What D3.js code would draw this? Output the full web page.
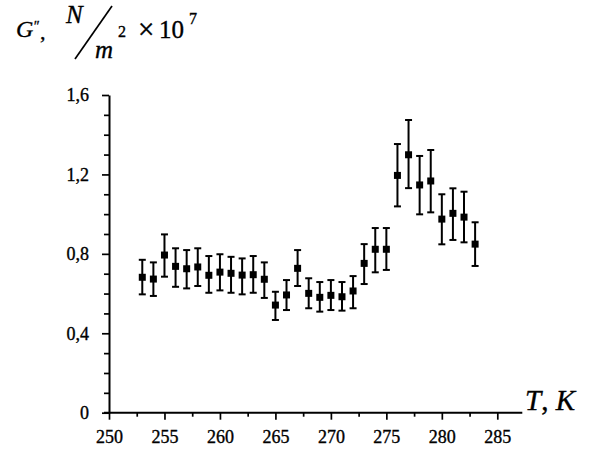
<!DOCTYPE html>
<html>
<head>
<meta charset="utf-8">
<script src="https://cdn.jsdelivr.net/npm/d3@7"></script>
<style>
  html, body { margin: 0; padding: 0; background: #fff; }
  svg { display: block; }
  svg text { font-family: "Liberation Serif", "Times New Roman", Times, serif !important; fill: #000; stroke: #000; stroke-width: 0.35px; }
</style>
</head>
<body>
<svg id="chart" width="597" height="456"></svg>
<script>
// Temperature, K
const temps = [253,254,255,256,257,258,259,260,261,262,263,264,265,266,267,268,269,270,271,272,273,274,275,276,277,278,279,280,281,282,283];
// G'' values (×10^7 N/m^2)
const values = [0.682,0.673,0.794,0.737,0.725,0.734,0.692,0.708,0.702,0.693,0.695,0.672,0.542,0.593,0.727,0.601,0.581,0.591,0.584,0.613,0.752,0.823,0.823,1.195,1.299,1.147,1.167,0.975,1.004,0.985,0.849];
// upper end of error bar
const upper = [0.770,0.757,0.898,0.828,0.819,0.828,0.789,0.798,0.785,0.777,0.789,0.757,0.609,0.668,0.819,0.677,0.658,0.668,0.658,0.688,0.849,0.930,0.930,1.353,1.474,1.293,1.323,1.100,1.130,1.113,0.959];
// lower end of error bar
const lower = [0.596,0.588,0.685,0.634,0.626,0.638,0.604,0.616,0.604,0.596,0.604,0.578,0.467,0.517,0.638,0.526,0.509,0.517,0.514,0.526,0.648,0.707,0.719,1.039,1.131,0.999,1.009,0.848,0.870,0.858,0.739];
// ticks
const xTicks = [250,255,260,265,270,275,280,285];
const xMinorTicks = [252.5,257.5,262.5,267.5,272.5,277.5,282.5];
const yTicks = [0,0.4,0.8,1.2,1.6];
const yMinorTicks = [0.1,0.2,0.3,0.5,0.6,0.7,0.9,1.0,1.1,1.3,1.4,1.5];

const svg = d3.select("#chart");
const x = d3.scaleLinear().domain([250,285]).range([109,497.3]);
const y = d3.scaleLinear().domain([0,1.6]).range([412.7,95]);
const fmt = d => d === 0 ? "0" : d3.format(".1f")(d).replace(".", ",");

// X axis minor ticks
svg.append("g").attr("transform", `translate(0,${y(0)})`)
  .call(d3.axisBottom(x).tickValues(xMinorTicks).tickSize(4).tickFormat(""))
  .call(g => g.select(".domain").remove());
// X axis major
const gx = svg.append("g").attr("transform", `translate(0,${y(0)})`)
  .call(d3.axisBottom(x).tickValues(xTicks).tickSize(7).tickPadding(11).tickFormat(d3.format("d")));
gx.select(".domain").remove();
gx.selectAll("text").style("font-size","18px");
// extended x axis line
svg.append("line")
  .attr("x1", x(250) - 5).attr("x2", x(285) + 25)
  .attr("y1", y(0)).attr("y2", y(0))
  .attr("stroke","#000").attr("stroke-width",2);

// Y axis minor
svg.append("g").attr("transform", `translate(${x(250)},0)`)
  .call(d3.axisLeft(y).tickValues(yMinorTicks).tickSize(5).tickFormat(""))
  .call(g => g.select(".domain").remove());
// Y axis major
const gy = svg.append("g").attr("transform", `translate(${x(250)},0)`)
  .call(d3.axisLeft(y).tickValues(yTicks).tickSize(7).tickSizeOuter(0).tickPadding(13).tickFormat(fmt));
gy.selectAll("text").style("font-size","18px");
svg.selectAll(".domain").attr("stroke-width",2);
svg.selectAll(".tick line").attr("stroke-width",1.7);
svg.selectAll("g").attr("font-family", null);

// Error bars and markers
const data = temps.map((t,i) => ({t, v: values[i], hi: upper[i], lo: lower[i]}));
const eb = svg.append("g").attr("stroke","#000").attr("stroke-width",2);
eb.selectAll("line.v").data(data).join("line").attr("class","v")
  .attr("x1", d => x(d.t)).attr("x2", d => x(d.t))
  .attr("y1", d => y(d.hi)).attr("y2", d => y(d.lo));
eb.selectAll("line.t").data(data).join("line").attr("class","t")
  .attr("x1", d => x(d.t) - 3.5).attr("x2", d => x(d.t) + 3.5)
  .attr("y1", d => y(d.hi)).attr("y2", d => y(d.hi));
eb.selectAll("line.b").data(data).join("line").attr("class","b")
  .attr("x1", d => x(d.t) - 3.5).attr("x2", d => x(d.t) + 3.5)
  .attr("y1", d => y(d.lo)).attr("y2", d => y(d.lo));
svg.append("g").selectAll("rect").data(data).join("rect")
  .attr("x", d => x(d.t) - 3.5).attr("y", d => y(d.v) - 3.5)
  .attr("width",7).attr("height",7).attr("fill","#000");

// X axis title
const xt = svg.append("text").attr("x", 525).attr("y", 410).style("font-size","29px");
xt.append("tspan").style("font-style","italic").text("T");
xt.append("tspan").text(", ");
xt.append("tspan").style("font-style","italic").text("K");

// Y axis title
svg.append("text").attr("x",16).attr("y",37).style("font-size","24px").style("font-style","italic").text("G");
svg.append("text").attr("x",33).attr("y",31).style("font-size","14px").style("font-style","italic").text("″");
svg.append("text").attr("x",40).attr("y",39).style("font-size","22px").text(",");
svg.append("text").attr("x",66).attr("y",23).style("font-size","25px").style("font-style","italic").text("N");
svg.append("line").attr("x1",75).attr("y1",59).attr("x2",112).attr("y2",6).attr("stroke","#000").attr("stroke-width",1.7);
svg.append("text").attr("x",95).attr("y",58).style("font-size","25px").style("font-style","italic").text("m");
svg.append("text").attr("x",118).attr("y",37).style("font-size","16px").text("2");
svg.append("text").attr("x",138).attr("y",39).style("font-size","29px").text("×");
svg.append("text").attr("x",159).attr("y",38).style("font-size","25px").text("10");
svg.append("text").attr("x",189).attr("y",24).style("font-size","16px").text("7");
</script>
</body>
</html>
